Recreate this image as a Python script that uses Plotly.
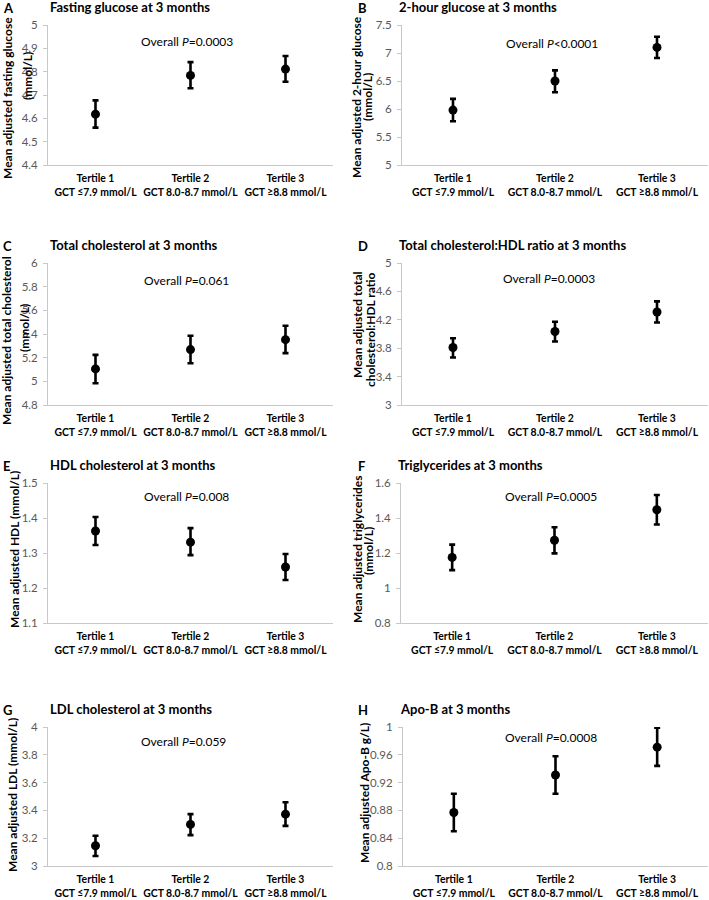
import plotly.graph_objects as go

# x categories (tertiles of GCT)
tertiles = ["Tertile 1<br>GCT ≤7.9 mmol/L",
            "Tertile 2<br>GCT 8.0-8.7 mmol/L",
            "Tertile 3<br>GCT ≥8.8 mmol/L"]

# A fasting glucose
fasting_mean = [4.618, 4.784, 4.811]
fasting_lo = [4.560, 4.729, 4.757]
fasting_hi = [4.677, 4.841, 4.867]
# B 2-hour glucose
twohour_mean = [5.98, 6.50, 7.10]
twohour_lo = [5.78, 6.30, 6.91]
twohour_hi = [6.18, 6.69, 7.29]
# C total cholesterol
tc_mean = [5.105, 5.268, 5.352]
tc_lo = [4.984, 5.153, 5.238]
tc_hi = [5.224, 5.385, 5.470]
# D total cholesterol:HDL ratio
ratio_mean = [3.81, 4.035, 4.31]
ratio_lo = [3.668, 3.894, 4.162]
ratio_hi = [3.941, 4.172, 4.459]
# E HDL
hdl_mean = [1.363, 1.331, 1.260]
hdl_lo = [1.323, 1.294, 1.223]
hdl_hi = [1.403, 1.371, 1.297]
# F triglycerides
tg_mean = [1.175, 1.273, 1.447]
tg_lo = [1.102, 1.198, 1.363]
tg_hi = [1.248, 1.347, 1.531]
# G LDL
ldl_mean = [3.146, 3.299, 3.373]
ldl_lo = [3.072, 3.222, 3.289]
ldl_hi = [3.218, 3.373, 3.459]
# H Apo-B
apob_mean = [0.877, 0.931, 0.971]
apob_lo = [0.850, 0.904, 0.944]
apob_hi = [0.904, 0.958, 0.999]

W, H = 709, 900
FONT = "Lato"


def px(x):
    return x / W


def py(y):
    return 1 - y / H


# letter, title, p text, mean, lo, hi, y range, dtick,
# plot box (x0, x1, y0, y1) in pixels, title lines [(text, x, y)], p pos
panels = [
    ("A", "Fasting glucose at 3 months", "Overall <i>P</i>=0.0003",
     fasting_mean, fasting_lo, fasting_hi, [4.4, 5], 0.1,
     (48, 333, 25, 165),
     [("Mean adjusted fasting glucose", 7, 98), ("(mmol/L)", 28, 76)], (187, 42)),
    ("B", "2-hour glucose at 3 months", "Overall <i>P</i><0.0001",
     twohour_mean, twohour_lo, twohour_hi, [5, 7.5], 0.5,
     (402, 708, 25, 165),
     [("Mean adjusted 2-hour glucose", 357, 97), ("(mmol/L)", 368, 97)], (552, 43)),
    ("C", "Total cholesterol at 3 months", "Overall <i>P</i>=0.061",
     tc_mean, tc_lo, tc_hi, [4.8, 6], 0.2,
     (48, 333, 263, 405),
     [("Mean adjusted total cholesterol", 7, 341), ("(mmol/L)", 24, 328)], (187, 281)),
    ("D", "Total cholesterol:HDL ratio at 3 months", "Overall <i>P</i>=0.0003",
     ratio_mean, ratio_lo, ratio_hi, [3, 5], 0.4,
     (402, 708, 263, 405),
     [("Mean adjusted total", 357, 325), ("cholesterol:HDL ratio", 370, 330)], (549, 278)),
    ("E", "HDL cholesterol at 3 months", "Overall <i>P</i>=0.008",
     hdl_mean, hdl_lo, hdl_hi, [1.1, 1.5], 0.1,
     (48, 333, 483, 623),
     [("Mean adjusted HDL (mmol/L)", 14, 550)], (187, 497)),
    ("F", "Triglycerides at 3 months", "Overall <i>P</i>=0.0005",
     tg_mean, tg_lo, tg_hi, [0.8, 1.6], 0.2,
     (401, 708, 483, 623),
     [("Mean adjusted triglycerides", 357, 550), ("(mmol/L)", 368, 551)], (551, 497)),
    ("G", "LDL cholesterol at 3 months", "Overall <i>P</i>=0.059",
     ldl_mean, ldl_lo, ldl_hi, [3, 4], 0.2,
     (48, 333, 727, 866),
     [("Mean adjusted LDL (mmol/L)", 12, 795)], (183, 741)),
    ("H", "Apo-B at 3 months", "Overall <i>P</i>=0.0008",
     apob_mean, apob_lo, apob_hi, [0.8, 1], 0.04,
     (403, 708, 727, 866),
     [("Mean adjusted Apo-B g/L)", 364, 793)], (551, 737)),
]

fig = go.Figure()
annotations = []
layout_axes = {}

for i, (letter, title, ptxt, mean, lo, hi, yr, dt, box, ylines, ppos) in enumerate(panels):
    n = "" if i == 0 else str(i + 1)
    x0, x1, y0, y1 = box
    left = x0 < 100
    fig.add_trace(go.Scatter(
        x=tertiles, y=mean, mode="markers",
        marker=dict(color="black", size=9),
        error_y=dict(type="data", symmetric=False,
                     array=[h - m for h, m in zip(hi, mean)],
                     arrayminus=[m - l for m, l in zip(mean, lo)],
                     color="black", thickness=2.6, width=3),
        xaxis="x" + n, yaxis="y" + n, showlegend=False, cliponaxis=False))
    layout_axes["xaxis" + n] = dict(
        domain=[px(x0), px(x1)], anchor="y" + n, type="category",
        range=[-0.5, 2.5], showline=True, linecolor="#c8c8c8", linewidth=1,
        showgrid=False, zeroline=False, ticks="", fixedrange=True,
        tickangle=0, automargin=False,
        tickfont=dict(family=FONT, size=10.4, color="black", weight="bold"),
        ticklabelstandoff=4)
    layout_axes["yaxis" + n] = dict(
        domain=[py(y1), py(y0)], anchor="x" + n, range=yr, dtick=dt, tick0=yr[0],
        showline=True, linecolor="#c8c8c8", linewidth=1, showgrid=False,
        zeroline=False, ticks="outside", ticklen=4, tickcolor="#c8c8c8",
        automargin=False, fixedrange=True,
        tickfont=dict(family=FONT, size=11.5, color="#595959"),
        ticklabelstandoff=3)
    annotations.append(dict(text="<b>" + letter + "</b>", x=px(1 if left else 356),
                            y=py(y0 - 17), xref="paper", yref="paper",
                            showarrow=False, xanchor="left", yanchor="middle",
                            font=dict(family=FONT, size=13, color="black")))
    annotations.append(dict(text="<b>" + title + "</b>", x=px(x0 if left else x0 - 5),
                            y=py(y0 - 18), xref="paper", yref="paper",
                            showarrow=False, xanchor="left", yanchor="middle",
                            font=dict(family=FONT, size=13, color="black")))
    annotations.append(dict(text=ptxt, x=px(ppos[0]), y=py(ppos[1]), xref="paper",
                            yref="paper", showarrow=False, xanchor="center",
                            yanchor="middle",
                            font=dict(family=FONT, size=12, color="black")))
    for txt, lx, ly in ylines:
        annotations.append(dict(text="<b>" + txt + "</b>", x=px(lx), y=py(ly),
                                xref="paper", yref="paper", showarrow=False,
                                textangle=-90, xanchor="center", yanchor="middle",
                                font=dict(family=FONT, size=12, color="black")))

fig.update_layout(
    width=W, height=H, margin=dict(l=0, r=0, t=0, b=0, autoexpand=False),
    paper_bgcolor="white", plot_bgcolor="white", hovermode=False,
    annotations=annotations, **layout_axes)

# drop the browser's default 8px body margin so the figure fills the window
fig.write_html("out.html", config={"displayModeBar": False},
               post_script="document.body.style.margin='0';")
